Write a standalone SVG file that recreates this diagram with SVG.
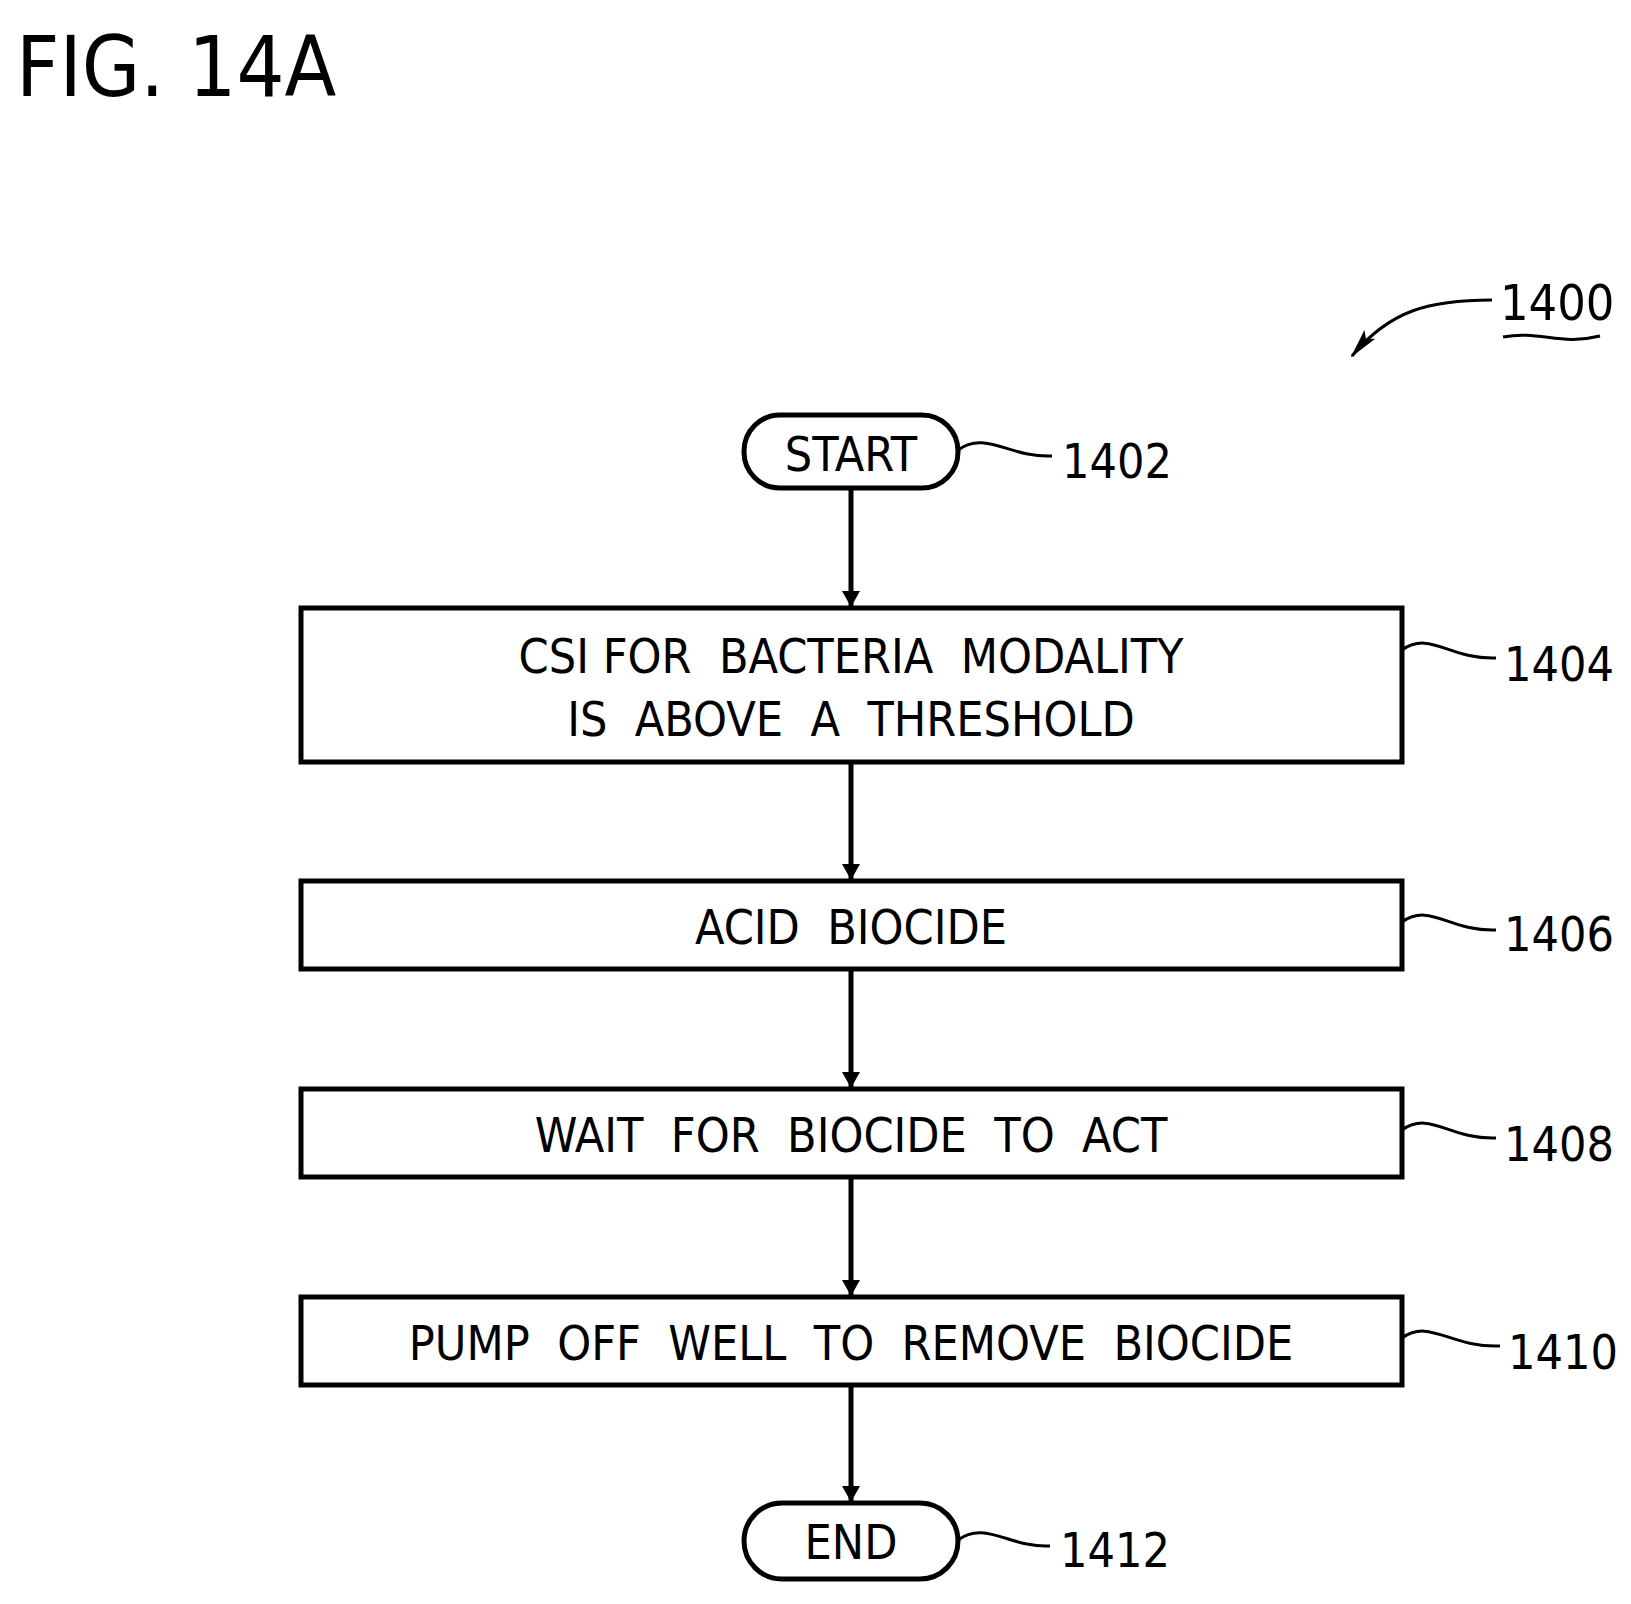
<svg xmlns="http://www.w3.org/2000/svg" width="1631" height="1604" viewBox="0 0 1631 1604">
<style>
text{font-family:"Liberation Sans Narrow","DejaVu Sans Condensed","Liberation Sans",sans-serif;fill:#000;white-space:pre}
.b{fill:#fff;stroke:#000;stroke-width:5}
.t{font-size:48px;text-anchor:middle}
.n{font-size:48px}
.l{fill:none;stroke:#000;stroke-width:3}
.c{stroke:#000;stroke-width:5;fill:none}
</style>
<defs><marker id="a" markerWidth="16" markerHeight="22" refX="15" refY="11" orient="auto" markerUnits="userSpaceOnUse"><path d="M0,2 L16,11 L0,20 Z" fill="#000"/></marker>
<marker id="a2" markerWidth="30" markerHeight="20" refX="28" refY="10" orient="auto" markerUnits="userSpaceOnUse"><path d="M0,3 L30,10 L0,17 L6,10 Z" fill="#000"/></marker></defs>
<rect width="1631" height="1604" fill="#fff"/>
<text x="16" y="96" style="font-size:84px">FIG. 14A</text>
<g id="ref1400">
<text x="1500" y="320" class="n" style="font-size:50px">1400</text>
<path class="l" d="M1503,337 C1540,330 1560,346 1600,336"/>
<path class="l" d="M1492,300 C1430,300 1390,310 1352,356" stroke-width="3.5" marker-end="url(#a2)"/>
</g>
<g id="n1402">
<rect class="b" x="744" y="415" width="214" height="73" rx="36"/>
<text class="t" x="851" y="471">START</text>
<path class="l" d="M958,450 C985,430 1010,458 1052,456"/>
<text class="n" x="1062" y="478">1402</text>
</g>
<g id="n1404">
<rect class="b" x="301" y="608" width="1101" height="154"/>
<text class="t" x="851" y="673">CSI FOR  BACTERIA  MODALITY</text>
<text class="t" x="851" y="736">IS  ABOVE  A  THRESHOLD</text>
<path class="l" d="M1402,650 C1430,630 1450,660 1496,658"/>
<text class="n" x="1504" y="681">1404</text>
</g>
<g id="n1406">
<rect class="b" x="301" y="881" width="1101" height="88"/>
<text class="t" x="851" y="944">ACID  BIOCIDE</text>
<path class="l" d="M1402,922 C1430,902 1450,932 1496,930"/>
<text class="n" x="1504" y="951">1406</text>
</g>
<g id="n1408">
<rect class="b" x="301" y="1089" width="1101" height="88"/>
<text class="t" x="851" y="1152">WAIT  FOR  BIOCIDE  TO  ACT</text>
<path class="l" d="M1402,1130 C1430,1110 1450,1140 1496,1138"/>
<text class="n" x="1504" y="1161">1408</text>
</g>
<g id="n1410">
<rect class="b" x="301" y="1297" width="1101" height="88"/>
<text class="t" x="851" y="1360">PUMP  OFF  WELL  TO  REMOVE  BIOCIDE</text>
<path class="l" d="M1402,1338 C1430,1318 1450,1348 1500,1346"/>
<text class="n" x="1508" y="1369">1410</text>
</g>
<g id="n1412">
<rect class="b" x="744" y="1503" width="214" height="76" rx="38"/>
<text class="t" x="851" y="1559">END</text>
<path class="l" d="M958,1540 C985,1520 1010,1548 1050,1546"/>
<text class="n" x="1060" y="1567">1412</text>
</g>
<g id="connectors">
<line class="c" x1="851" y1="488" x2="851" y2="606" marker-end="url(#a)"/>
<line class="c" x1="851" y1="762" x2="851" y2="879" marker-end="url(#a)"/>
<line class="c" x1="851" y1="969" x2="851" y2="1087" marker-end="url(#a)"/>
<line class="c" x1="851" y1="1177" x2="851" y2="1295" marker-end="url(#a)"/>
<line class="c" x1="851" y1="1385" x2="851" y2="1501" marker-end="url(#a)"/>
</g>
</svg>
